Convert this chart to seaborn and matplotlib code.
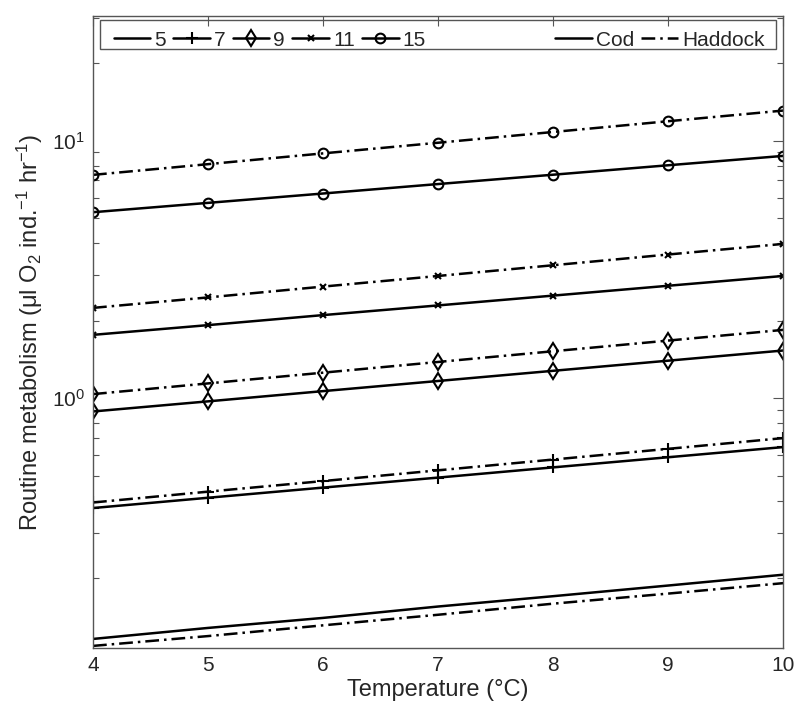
# Routine metabolism of cod and haddock vs temperature, by fish length (cm)
import numpy as np
import pandas as pd
import seaborn as sns
import matplotlib.pyplot as plt
from matplotlib.lines import Line2D
from matplotlib.patches import Rectangle
from matplotlib.ticker import LogLocator, NullFormatter

temps = [4, 5, 6, 7, 8, 9, 10]
lengths = [5, 7, 9, 11, 15]
species = ["Cod", "Haddock"]

# values (ul O2 per individual per hour)
cod_5 = [0.116, 0.128, 0.140, 0.155, 0.170, 0.187, 0.206]
cod_7 = [0.374, 0.410, 0.449, 0.491, 0.538, 0.589, 0.645]
cod_9 = [0.887, 0.971, 1.064, 1.165, 1.276, 1.397, 1.53]
cod_11 = [1.76, 1.92, 2.10, 2.29, 2.50, 2.73, 2.98]
cod_15 = [5.27, 5.73, 6.23, 6.78, 7.37, 8.02, 8.72]

haddock_5 = [0.109, 0.119, 0.131, 0.144, 0.159, 0.174, 0.191]
haddock_7 = [0.393, 0.433, 0.476, 0.524, 0.577, 0.635, 0.699]
haddock_9 = [1.036, 1.140, 1.255, 1.381, 1.520, 1.672, 1.84]
haddock_11 = [2.24, 2.46, 2.71, 2.98, 3.28, 3.61, 3.97]
haddock_15 = [7.36, 8.10, 8.92, 9.81, 10.80, 11.89, 13.08]

values = {
    ("Cod", 5): cod_5, ("Cod", 7): cod_7, ("Cod", 9): cod_9,
    ("Cod", 11): cod_11, ("Cod", 15): cod_15,
    ("Haddock", 5): haddock_5, ("Haddock", 7): haddock_7, ("Haddock", 9): haddock_9,
    ("Haddock", 11): haddock_11, ("Haddock", 15): haddock_15,
}

rows = []
for (sp, ln), vals in values.items():
    for t, v in zip(temps, vals):
        rows.append({"species": sp, "length": ln, "temp": t, "rate": v})
df = pd.DataFrame(rows)

sns.set_style("white")
plt.rcParams["font.family"] = ["Liberation Sans", "DejaVu Sans"]
plt.rcParams["mathtext.fontset"] = "custom"
plt.rcParams["mathtext.rm"] = "Liberation Sans"
plt.rcParams["mathtext.it"] = "Liberation Sans:italic"

markers = {5: "None", 7: "+", 9: "d", 11: "x", 15: "o"}
msizes = {5: 0, 7: 9, 9: 8, 11: 5, 15: 7}
dashdot = (0, (5.5, 2.0, 1.0, 2.0))
lstyles = {"Cod": "-", "Haddock": dashdot}

fig = plt.figure(figsize=(7.95, 7.07), dpi=100)
ax = fig.add_axes([0.117, 0.0835, 0.868, 0.894])

for (sp, ln), grp in df.groupby(["species", "length"]):
    sns.lineplot(data=grp, x="temp", y="rate", ax=ax, color="black",
                 linewidth=1.8, linestyle=lstyles[sp], marker=markers[ln],
                 markersize=msizes[ln], markerfacecolor="none",
                 markeredgecolor="black", markeredgewidth=1.5, legend=False)

ax.set_yscale("log")
ax.set_xlim(4, 10)
ax.set_ylim(0.107, 30.5)
ax.set_xticks(temps)
ax.yaxis.set_major_locator(LogLocator(base=10))
ax.yaxis.set_minor_locator(LogLocator(base=10, subs=np.arange(2, 10)))
ax.yaxis.set_minor_formatter(NullFormatter())

ax.set_xlabel("Temperature (°C)", fontsize=17, labelpad=3)
ax.set_ylabel("Routine metabolism (μl O$_2$ ind.$^{-1}$ hr$^{-1}$)", fontsize=17, labelpad=5)
ax.tick_params(axis="both", which="major", direction="in", top=True, right=True,
               length=7, width=0.8, color="#555555", labelsize=15, pad=6)
ax.tick_params(axis="y", which="minor", direction="in", left=True, right=True,
               length=4, width=0.8, color="#555555")
for s in ax.spines.values():
    s.set_color("#555555")
    s.set_linewidth(1.0)

size_handles = [Line2D([], [], color="black", lw=1.8, marker=markers[ln],
                       markersize=msizes[ln], markerfacecolor="none",
                       markeredgewidth=1.5, label=str(ln)) for ln in lengths]
species_handles = [Line2D([], [], color="black", lw=1.8, linestyle=lstyles[sp], label=sp)
                   for sp in species]

leg_kw = dict(frameon=False, handlelength=1.75, handletextpad=0.2, columnspacing=0.35,
              borderaxespad=0, fontsize=15)
leg1 = ax.legend(handles=size_handles, loc="upper left", bbox_to_anchor=(0.018, 0.99),
                 ncol=5, **leg_kw)
ax.add_artist(leg1)
ax.legend(handles=species_handles, loc="upper right", bbox_to_anchor=(0.985, 0.99),
          ncol=2, **leg_kw)
ax.add_patch(Rectangle((0.01, 0.947), 0.98, 0.047, transform=ax.transAxes,
                       fill=False, edgecolor="#555555", lw=1.0, zorder=5))

fig.savefig("out.png", dpi=100)
